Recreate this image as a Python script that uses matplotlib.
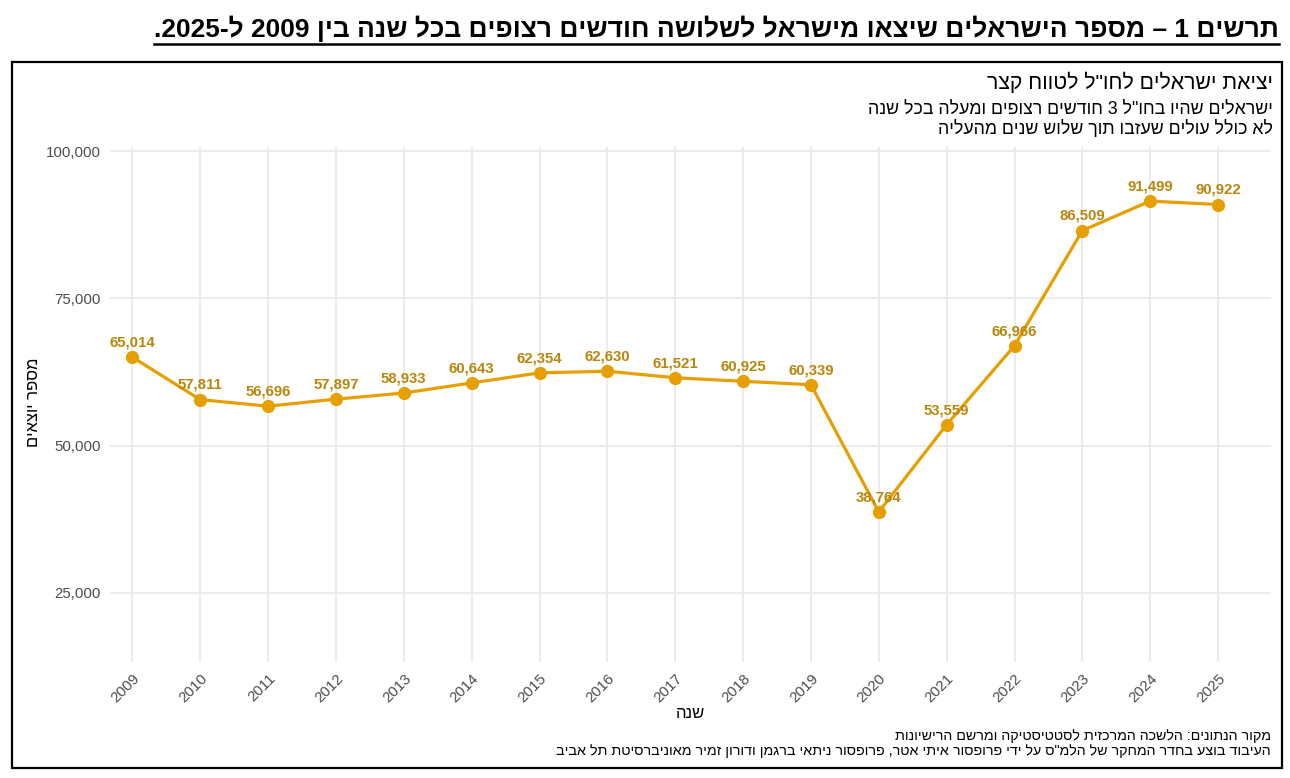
import re
import matplotlib
matplotlib.use("Agg")
import matplotlib.pyplot as plt
from matplotlib.patches import Rectangle
from matplotlib.lines import Line2D

years = [2009, 2010, 2011, 2012, 2013, 2014, 2015, 2016, 2017, 2018, 2019, 2020, 2021, 2022, 2023, 2024, 2025]
leavers = [65014, 57811, 56696, 57897, 58933, 60643, 62354, 62630, 61521, 60925, 60339, 38764, 53559, 66966, 86509, 91499, 90922]
y_ticks = [25000, 50000, 75000, 100000]

title = "תרשים 1 – מספר הישראלים שיצאו מישראל לשלושה חודשים רצופים בכל שנה בין 2009 ל-2025."
subtitle = 'יציאת ישראלים לחו"ל לטווח קצר'
sub1 = 'ישראלים שהיו בחו"ל 3 חודשים רצופים ומעלה בכל שנה'
sub2 = "לא כולל עולים שעזבו תוך שלוש שנים מהעליה"
cap1 = "מקור הנתונים: הלשכה המרכזית לסטטיסטיקה ומרשם הרישיונות"
cap2 = 'העיבוד בוצע בחדר המחקר של הלמ"ס על ידי פרופסור איתי אטר, פרופסור ניתאי ברגמן ודורון זמיר מאוניברסיטת תל אביב'
xlabel = "שנה"
ylabel = "מספר יוצאים"


def vis(s):
    r = s[::-1]
    return re.sub(r"[0-9]+", lambda m: m.group()[::-1], r)


FONT = ["Liberation Sans", "DejaVu Sans"]
plt.rcParams["font.family"] = FONT

W, H = 1290, 778
fig = plt.figure(figsize=(W / 100, H / 100), dpi=100)
fig.patch.set_facecolor("white")

def fx(px):
    return px / W

def fy(py):
    return 1 - py / H

# outer border
fig.add_artist(Rectangle((fx(12), fy(768)), fx(1282) - fx(12), fy(62) - fy(768),
                         transform=fig.transFigure, fill=False, edgecolor="black", linewidth=1.6))

# title with underline
t = fig.text(fx(1279), fy(29), vis(title), ha="right", va="center", fontsize=19,
             fontweight="bold", family=FONT, color="black")
fig.canvas.draw()
bb = t.get_window_extent(renderer=fig.canvas.get_renderer())
fig.add_artist(Line2D([bb.x0 / W, bb.x1 / W], [fy(44), fy(44)], transform=fig.transFigure,
                      color="black", linewidth=1.8))

fig.text(fx(1273), fy(82), vis(subtitle), ha="right", va="center", fontsize=15.3, color="black")
fig.text(fx(1273), fy(109), vis(sub1), ha="right", va="center", fontsize=12.8, color="black")
fig.text(fx(1273), fy(129), vis(sub2), ha="right", va="center", fontsize=12.8, color="black")
fig.text(fx(1271), fy(736), vis(cap1), ha="right", va="center", fontsize=10.3, color="black")
fig.text(fx(1271), fy(751), vis(cap2), ha="right", va="center", fontsize=10.3, color="black")

ax = fig.add_axes([fx(110), fy(662), fx(1271) - fx(110), fy(147) - fy(662)])
ax.set_facecolor("white")
for s in ax.spines.values():
    s.set_visible(False)

ax.plot(years, leavers, color="#E69F00", linewidth=2.3, marker="o", markersize=8.5,
        markerfacecolor="#E69F00", markeredgecolor="#E69F00", zorder=3)
for xv, yv in zip(years, leavers):
    ax.annotate(f"{yv:,}", (xv, yv), xytext=(0, 5.5), textcoords="offset points",
                ha="center", va="bottom", fontsize=10.8, fontweight="bold",
                color="#B8860B", zorder=4)

ax.set_xlim(2008.67, 2025.78)
ax.set_ylim(13291, 100679)
ax.set_xticks(years)
ax.set_xticklabels([str(y) for y in years], rotation=45, ha="right", va="top",
                   rotation_mode="anchor", fontsize=10.8, color="#4D4D4D")
ax.set_yticks(y_ticks)
ax.set_yticklabels([f"{v:,}" for v in y_ticks], fontsize=10.8, color="#4D4D4D")
ax.tick_params(axis="both", length=0)
ax.tick_params(axis="y", pad=6.5)
ax.tick_params(axis="x", pad=7)
ax.grid(True, color="#EBEBEB", linewidth=1.3)
ax.set_axisbelow(True)

fig.text(fx(690), fy(713), vis(xlabel), ha="center", va="center", fontsize=12, color="black")
fig.text(fx(33), fy(402), vis(ylabel), ha="center", va="center", rotation=90, fontsize=12, color="black")

fig.savefig("out.png", dpi=100, facecolor="white")
